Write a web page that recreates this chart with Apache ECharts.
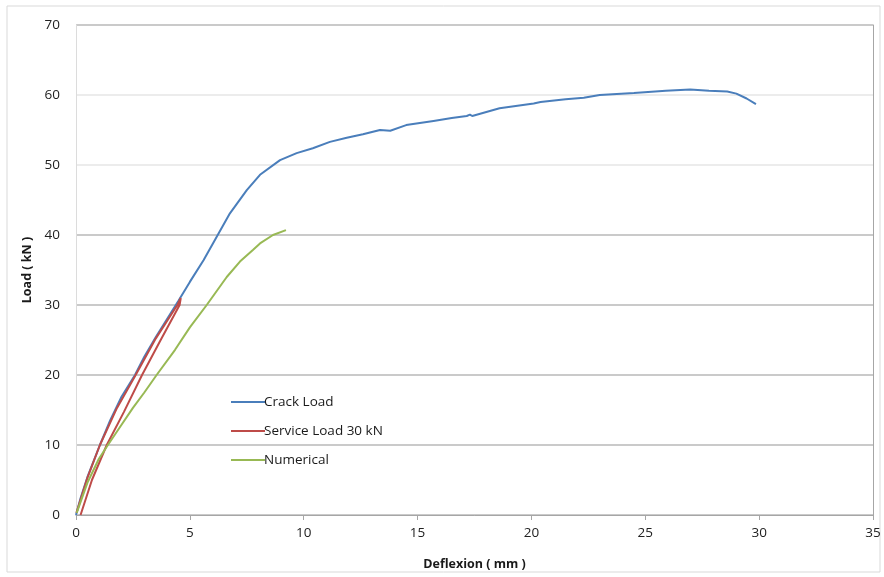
<!DOCTYPE html>
<html>
<head>
<meta charset="utf-8">
<script src="https://cdn.jsdelivr.net/npm/echarts@6/dist/echarts.min.js"></script>
<style>
html,body{margin:0;padding:0;background:#fff;}
#main{width:884px;height:577px;}
</style>
</head>
<body>
<div id="main"></div>
<script>
// 曲线数据 [挠度 mm, 荷载 kN]
var crackLoad = [
	[0,0],[0.2,2.4],[0.5,5.4],[1.05,10],[1.5,13.5],[2,16.9],[2.59,20],[3,22.6],
	[3.5,25.4],[4,28.0],[4.5,30.6],[5,33.3],[5.6,36.4],[6.1,39.3],[6.76,43.1],
	[7.5,46.4],[8.08,48.6],[8.96,50.7],[9.69,51.7],[10.4,52.4],[11.15,53.3],
	[11.89,53.9],[12.6,54.4],[13.35,55.0],[13.8,54.9],[14.5,55.7],[15.1,56.0],
	[15.7,56.3],[16.5,56.7],[17.16,57.0],[17.3,57.2],[17.4,57.0],[18.6,58.1],
	[20.1,58.8],[20.4,59.0],[21.5,59.4],[22.3,59.6],[23.0,60.0],[24.5,60.3],
	[25.9,60.6],[26.97,60.8],[27.8,60.6],[28.6,60.5],[29.0,60.2],[29.45,59.5],[29.86,58.7]
];
var serviceLoad = [
	[0.02,0.3],[0.5,5.3],[1.05,10],[1.8,15.3],[2.62,20],[3.5,25.2],[4.45,30],[4.6,31],
	[4.55,30],[3.7,24.9],[2.9,20],[2.1,14.7],[1.35,10],[0.7,5],[0.2,0]
];
var numerical = [
	[0.03,0.3],[0.5,4.6],[1.0,8.0],[1.4,10],[2,12.9],[2.5,15.3],[3,17.5],[3.54,20],
	[4.35,23.6],[5,26.8],[5.74,30],[6.62,34],[7.2,36.2],[7.78,37.9],[8.08,38.8],
	[8.65,40],[9.22,40.7]
];
var legendNames = ['Crack Load','Service Load 30 kN','Numerical'];
var xTicks = [0,35,5];   // min, max, interval
var yTicks = [0,70,10];

var chart = echarts.init(document.getElementById('main'));
var font = "'Open Sans', 'Noto Sans', sans-serif";

chart.setOption({
	backgroundColor: '#fff',
	animation: false,
	textStyle: { fontFamily: font },
	graphic: [{
		type: 'rect',
		shape: { x: 7, y: 6, width: 873, height: 566 },
		style: { fill: 'none', stroke: '#d9d9d9', lineWidth: 1 },
		silent: true
	}],
	grid: { left: 76, right: 11, top: 25, bottom: 62 },
	legend: {
		data: legendNames,
		orient: 'vertical',
		left: 226,
		top: 388,
		itemGap: 11,
		itemWidth: 34,
		itemHeight: 2,
		icon: 'rect',
		textStyle: { fontSize: 13.5, color: '#1a1a1a', fontFamily: font, padding: [0,0,0,-6], lineHeight: 18 }
	},
	xAxis: {
		type: 'value',
		min: xTicks[0], max: xTicks[1], interval: xTicks[2],
		name: 'Deflexion ( mm )',
		nameLocation: 'middle',
		nameGap: 43,
		nameTextStyle: { fontWeight: 'bold', fontSize: 12.5, color: '#1a1a1a' },
		axisLine: { lineStyle: { color: '#a6a6a6' } },
		axisTick: { show: true, length: 5, lineStyle: { color: '#a6a6a6' } },
		axisLabel: { fontSize: 13.5, color: '#222', margin: 11 },
		splitLine: { show: false }
	},
	yAxis: [{
		type: 'value',
		min: yTicks[0], max: yTicks[1], interval: yTicks[2],
		name: 'Load ( kN )',
		nameLocation: 'middle',
		nameGap: 38,
		nameRotate: 90,
		nameTextStyle: { fontWeight: 'bold', fontSize: 12.5, color: '#1a1a1a' },
		axisLine: { show: true, lineStyle: { color: '#dcdcdc' } },
		axisTick: { show: false },
		axisLabel: { fontSize: 13.5, color: '#222', margin: 16 },
		splitLine: { show: true, lineStyle: { width: 1.5,
			color: ['#b8b8b8','#b8b8b8','#b8b8b8','#b8b8b8','#b8b8b8','#e6e6e6','#e6e6e6','#b8b8b8'] } }
	}, {
		// 右侧边框
		type: 'value', position: 'right',
		min: yTicks[0], max: yTicks[1], interval: yTicks[2],
		axisLine: { show: true, lineStyle: { color: '#a6a6a6' } },
		axisTick: { show: false },
		axisLabel: { show: false },
		splitLine: { show: false }
	}],
	series: [{
		name: legendNames[0], type: 'line', data: crackLoad,
		showSymbol: false,
		lineStyle: { color: '#4a7ebb', width: 2 }, itemStyle: { color: '#4a7ebb' }
	}, {
		name: legendNames[1], type: 'line', data: serviceLoad,
		showSymbol: false,
		lineStyle: { color: '#be4b48', width: 2 }, itemStyle: { color: '#be4b48' }
	}, {
		name: legendNames[2], type: 'line', data: numerical,
		showSymbol: false,
		lineStyle: { color: '#98b954', width: 2 }, itemStyle: { color: '#98b954' }
	}]
});
</script>
</body>
</html>
